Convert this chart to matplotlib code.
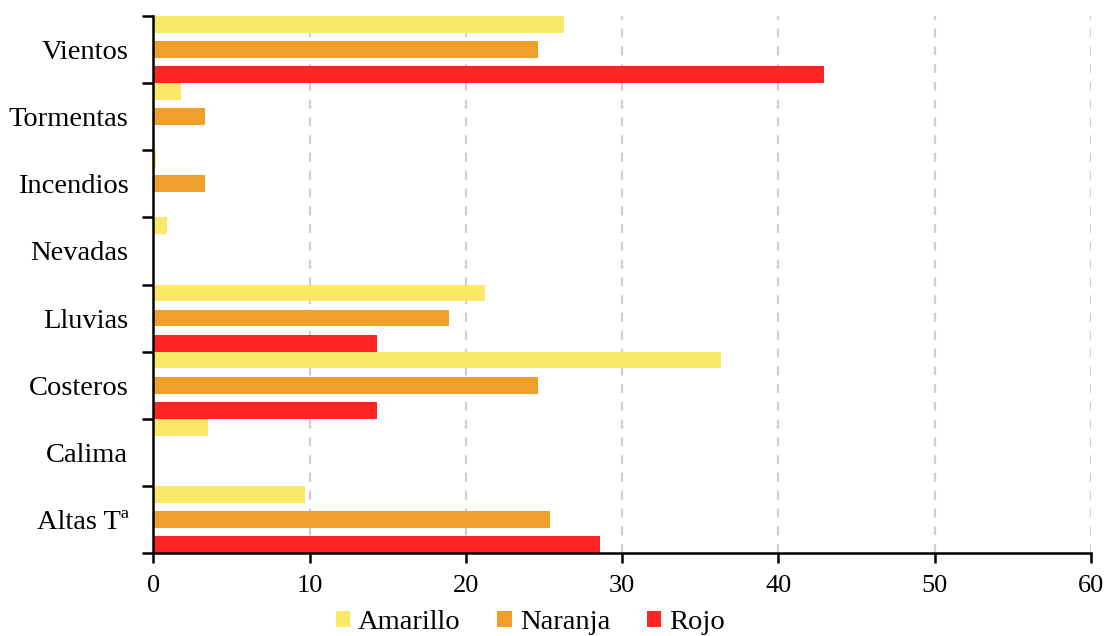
import matplotlib
matplotlib.use("Agg")
import matplotlib.pyplot as plt
import numpy as np

plt.rcParams["font.family"] = ["Liberation Serif", "DejaVu Serif"]

# bottom to top
categories = ["Altas Tª", "Calima", "Costeros", "Lluvias", "Nevadas",
              "Incendios", "Tormentas", "Vientos"]
amarillo = [9.7, 3.5, 36.3, 21.2, 0.9, 0.2, 1.8, 26.3]
naranja = [25.4, 0.0, 24.6, 18.9, 0.0, 3.3, 3.3, 24.6]
rojo = [28.6, 0.0, 14.3, 14.3, 0.0, 0.0, 0.0, 42.9]

series = [("Amarillo", amarillo, "#F9E966", 0.375),
          ("Naranja", naranja, "#F0A02A", 0.0),
          ("Rojo", rojo, "#FF2323", -0.375)]

fig = plt.figure(figsize=(11.07, 6.36), dpi=100)
ax = fig.add_axes([0.1385, 0.1305, 0.847, 0.8443])

y = np.arange(len(categories))
for name, vals, col, off in series:
    ax.barh(y + off, vals, height=0.25, color=col, label=name,
            linewidth=0, zorder=2)

ax.set_xlim(0, 60)
ax.set_ylim(-0.5, len(categories) - 0.5)
ax.set_xticks(range(0, 61, 10))
ax.set_yticks(y)
ax.set_yticklabels(categories)
ax.set_yticks(np.arange(-0.5, len(categories), 1.0), minor=True)
ax.tick_params(axis="y", which="major", length=0, pad=18, labelsize=20.5)
ax.tick_params(axis="y", which="minor", length=8, width=1.8, direction="out")
ax.tick_params(axis="x", length=7, width=1.8, direction="out", labelsize=19, pad=9)

ax.xaxis.grid(True, color="#cfcfcf", linestyle=(0, (4, 4)), linewidth=1.6, zorder=0)
ax.spines["top"].set_visible(False)
ax.spines["right"].set_visible(False)
for s in ("left", "bottom"):
    ax.spines[s].set_linewidth(1.8)
    ax.spines[s].set_zorder(4)
ax.set_axisbelow(True)

ax.legend(loc="upper center", bbox_to_anchor=(0.402, -0.085), ncol=3,
          frameon=False, fontsize=20.5, handlelength=0.5, handleheight=0.5,
          handletextpad=0.28, columnspacing=1.3, borderaxespad=0)

fig.savefig("out.png", dpi=100)
